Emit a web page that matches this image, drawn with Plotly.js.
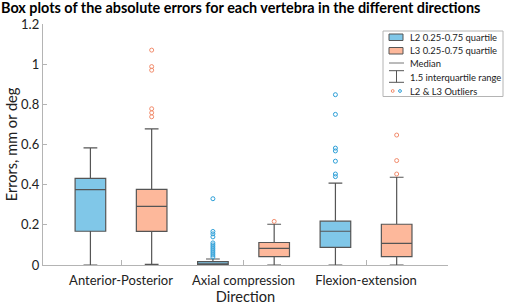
<!DOCTYPE html>
<html>
<head>
<meta charset="utf-8">
<script src="https://cdn.plot.ly/plotly-3.0.1.min.js"></script>
<style>html,body{margin:0;padding:0;background:#fff;}#chart{width:505px;height:305px;}</style>
</head>
<body>
<div id="chart"></div>
<script>
// ---- data ----
var categories = ['Anterior-Posterior', 'Axial compression', 'Flexion-extension'];

var l2Q1 = [0.168, 0.001, 0.088];
var l2Median = [0.375, 0.005, 0.168];
var l2Q3 = [0.431, 0.017, 0.218];
var l2Lower = [0.0, 0.0, 0.0];
var l2Upper = [0.583, 0.030, 0.408];
// sample points per box (only those outside the whiskers are drawn)
var l2PtsAP = [0.375];
var l2PtsAxial = [0.33, 0.167, 0.155, 0.14, 0.11, 0.10, 0.09, 0.08, 0.07, 0.06, 0.05, 0.04];
var l2PtsFlex = [0.848, 0.75, 0.582, 0.568, 0.517, 0.453, 0.44];

var l3Q1 = [0.167, 0.042, 0.042];
var l3Median = [0.292, 0.083, 0.108];
var l3Q3 = [0.377, 0.112, 0.203];
var l3Lower = [0.003, 0.0, 0.0];
var l3Upper = [0.678, 0.203, 0.437];
var l3PtsAP = [1.07, 0.988, 0.97, 0.778, 0.758, 0.738];
var l3PtsAxial = [0.217];
var l3PtsFlex = [0.647, 0.52, 0.453];

var legendLabels = ['L2 0.25-0.75 quartile', 'L3 0.25-0.75 quartile', 'Median', '1.5 interquartile range', 'L2 & L3 Outliers'];

// ---- styles ----
var l2Fill = '#80c7e8', l3Fill = '#fdb89b';
var l2Pt = '#2c9fd8', l3Pt = '#f28b6b';
var edge = '#555555';
var axisCol = '#b4b4b4';
var FONT = 'Lato, "Open Sans", sans-serif';

function boxTrace(name, q1, med, q3, lf, uf, pts, fill, ptc) {
  return {
    type: 'box', name: name, x: categories,
    q1: q1, median: med, q3: q3, lowerfence: lf, upperfence: uf,
    y: pts, boxpoints: 'outliers', pointpos: 0, jitter: 0,
    fillcolor: fill, line: {color: edge, width: 1.2},
    whiskerwidth: 0.45,
    marker: {symbol: 'circle-open', size: 4, color: ptc, line: {width: 1, color: ptc}},
    showlegend: false, hoverinfo: 'skip'
  };
}

var traces = [
  boxTrace('L2', l2Q1, l2Median, l2Q3, l2Lower, l2Upper, [l2PtsAP, l2PtsAxial, l2PtsFlex], l2Fill, l2Pt),
  boxTrace('L3', l3Q1, l3Median, l3Q3, l3Lower, l3Upper, [l3PtsAP, l3PtsAxial, l3PtsFlex], l3Fill, l3Pt)
];

// ---- custom legend (pixel -> paper) ----
var PL = 43, PR = 448, PT = 24, PB = 265;
function px(x) { return (x - PL) / (PR - PL); }
function py(y) { return (PB - y) / (PB - PT); }
var shapes = [], annotations = [];
function rect(x0, y0, x1, y1, fill, lc) {
  shapes.push({type: 'rect', xref: 'paper', yref: 'paper', x0: px(x0), x1: px(x1), y0: py(y1), y1: py(y0),
    fillcolor: fill, line: {color: lc, width: 1}});
}
function seg(x0, y0, x1, y1, c, w) {
  shapes.push({type: 'line', xref: 'paper', yref: 'paper', x0: px(x0), x1: px(x1), y0: py(y0), y1: py(y1),
    line: {color: c, width: w}});
}
function circ(cx, cy, r, c) {
  shapes.push({type: 'circle', xref: 'paper', yref: 'paper', x0: px(cx - r), x1: px(cx + r), y0: py(cy + r), y1: py(cy - r),
    line: {color: c, width: 1}});
}
rect(383, 31, 503, 96.5, '#ffffff', '#b4b4b4');
rect(389, 34, 403, 40.5, l2Fill, edge);
rect(389, 47.5, 403, 54, l3Fill, edge);
seg(389, 63, 404, 63, '#777', 1);
seg(389, 70.7, 404, 70.7, '#555', 1);
seg(396.5, 70.7, 396.5, 82.3, '#555', 1);
seg(389, 82.3, 404, 82.3, '#555', 1);
circ(392.7, 91, 1.4, l3Pt);
circ(400, 91, 1.4, l2Pt);
var ly = [37.3, 50.7, 63.3, 77, 91.3];
for (var i = 0; i < legendLabels.length; i++) {
  annotations.push({xref: 'paper', yref: 'paper', x: px(407.5), y: py(ly[i]), xanchor: 'left', yanchor: 'middle',
    text: legendLabels[i], showarrow: false, font: {family: FONT, size: 9.4, color: '#222'}});
}

var layout = {
  width: 505, height: 305,
  margin: {l: PL, r: 505 - PR, t: PT, b: 305 - PB, pad: 0},
  paper_bgcolor: '#fff', plot_bgcolor: '#fff',
  title: {text: 'Box plots of the absolute errors for each vertebra in the different directions',
    xref: 'container', x: 0.002, xanchor: 'left', yref: 'container', y: 0.975, yanchor: 'middle',
    font: {family: FONT, size: 14.4, weight: 'bold', color: '#000'}},
  boxmode: 'group', boxgap: 0, boxgroupgap: 0.5,
  xaxis: {type: 'category', range: [-0.637, 2.669], showline: true, linecolor: axisCol, linewidth: 1.2,
    ticks: 'inside', ticklen: 5, tickcolor: axisCol, showgrid: false, zeroline: false,
    ticklabelstandoff: 3,
    tickfont: {family: FONT, size: 13, color: '#222'},
    title: {text: 'Direction', font: {family: FONT, size: 14.6, color: '#222'}, standoff: 2}},
  yaxis: {range: [0, 1.2], dtick: 0.2, showline: true, linecolor: axisCol, linewidth: 1.2,
    ticks: 'inside', ticklen: 4, tickcolor: axisCol, showgrid: false, zeroline: false,
    tickfont: {family: FONT, size: 13, color: '#222'},
    title: {text: 'Errors, mm or deg', font: {family: FONT, size: 14.6, color: '#222'}, standoff: 0}},
  shapes: shapes, annotations: annotations, showlegend: false
};

Plotly.newPlot('chart', traces, layout, {displayModeBar: false, staticPlot: true});
</script>
</body>
</html>
